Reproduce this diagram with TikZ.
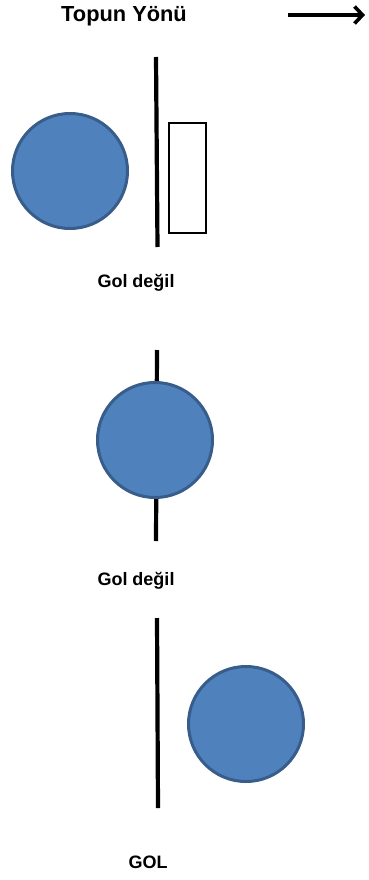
\documentclass[tikz,border=0pt]{standalone}
\usepackage{fontspec}
\setmainfont{Liberation Sans}
\usetikzlibrary{arrows.meta}
\definecolor{ballfill}{HTML}{4F81BD}
\definecolor{balledge}{HTML}{385D8A}
\begin{document}
\begin{tikzpicture}[x=1pt,y=-1pt,
  ball/.style={circle,fill=ballfill,draw=balledge,line width=3pt,minimum size=115pt,inner sep=0pt},
  goalline/.style={line width=4.2pt,black},
  lbl/.style={font=\bfseries\fontsize{18}{21}\selectfont,inner sep=0pt}]
\useasboundingbox (0,0) rectangle (368,880);
% title and direction arrow
\node[font=\bfseries\fontsize{21.8}{26}\selectfont,inner sep=0pt] (title) at (124,16) {Topun Yönü};
\coordinate (arrA) at (288,15);
\coordinate (arrB) at (365,15);
\draw[line width=3.6pt,-{Straight Barb[length=8pt,width=17pt]}] (arrA) -- (arrB);
% case 1
\coordinate (l1a) at (156,57);
\coordinate (l1b) at (157.5,247);
\draw[goalline] (l1a) -- (l1b);
\node[ball] (b1) at (70,171) {};
\node[draw,line width=2pt,minimum width=37pt,minimum height=109pt,inner sep=0pt] (box) at (187,178) {};
\node[lbl] (t1) at (136,283) {Gol değil};
% case 2
\coordinate (l2a) at (157,350);
\coordinate (l2b) at (156,541);
\draw[goalline] (l2a) -- (l2b);
\node[ball] (b2) at (155,440) {};
\node[lbl] (t2) at (136,581) {Gol değil};
% case 3
\coordinate (l3a) at (157,618);
\coordinate (l3b) at (158,808);
\draw[goalline] (l3a) -- (l3b);
\node[ball] (b3) at (246,724) {};
\node[lbl] (t3) at (148,862) {GOL};
\end{tikzpicture}
\end{document}
